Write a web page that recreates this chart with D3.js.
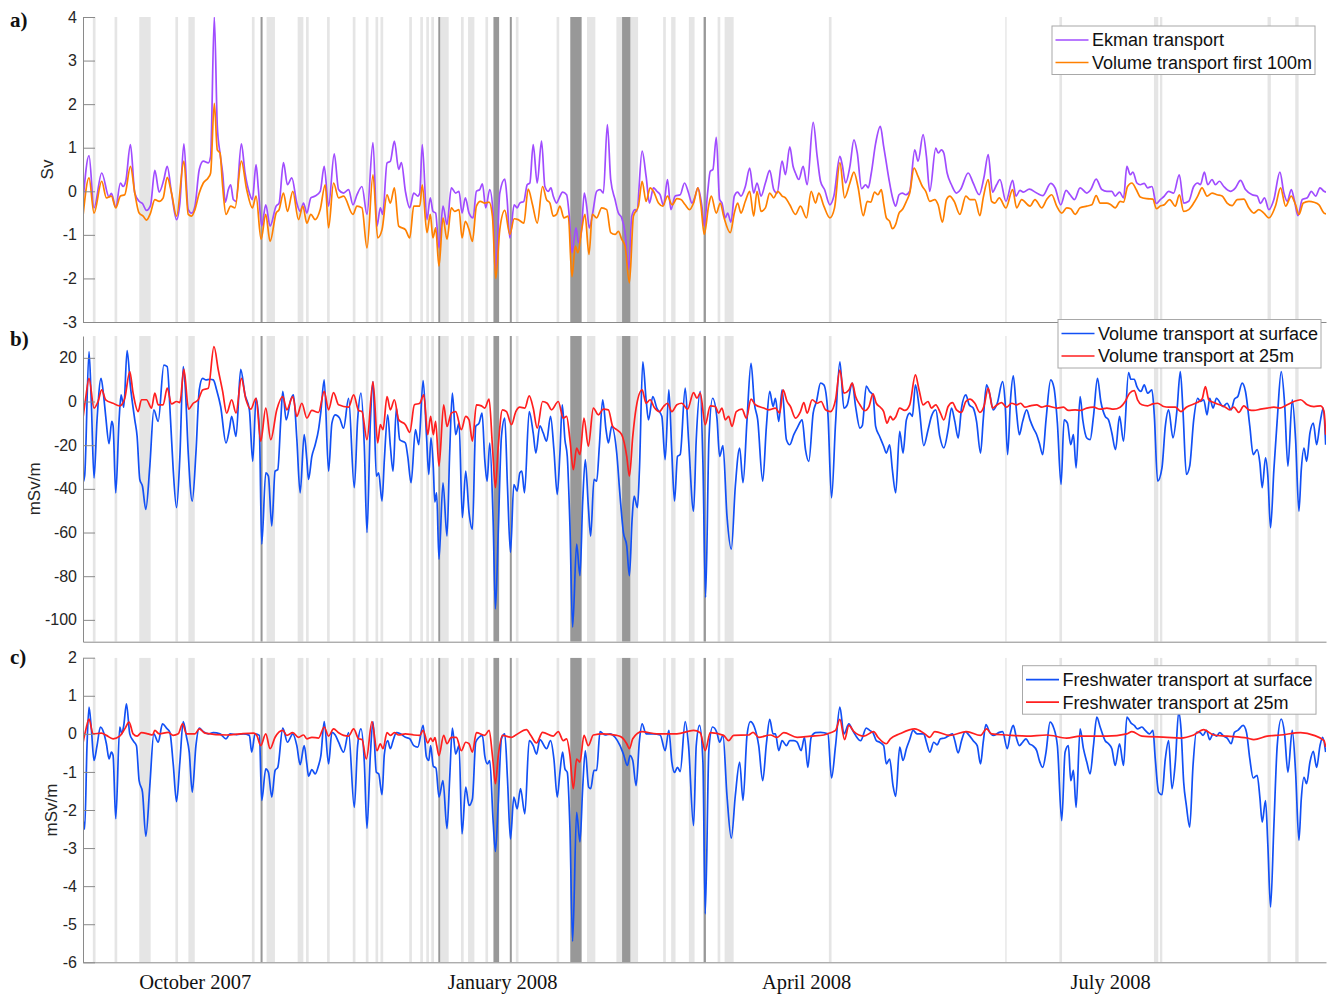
<!DOCTYPE html>
<html>
<head>
<meta charset="utf-8">
<script src="https://cdn.jsdelivr.net/npm/d3@7"></script>
<style>
  body { margin: 0; background: #fff; }
  svg { display: block; }
</style>
</head>
<body>
<svg id="fig" width="1330" height="997"></svg>
<script>
// ---------------------------------------------------------------------------
// Time base: series are given as [day, value], day counted from 28 Aug 2007.
// ---------------------------------------------------------------------------
const DAY0 = new Date(2007, 7, 28);
const dayRange = [0.55, 372.6];
const monthTicks = [new Date(2007, 9, 1), new Date(2008, 0, 1), new Date(2008, 3, 1), new Date(2008, 6, 1)];

// Event periods [startDay, endDay]
const lightEvents = [[3.5,4.3],[10.0,10.8],[17.4,20.8],[28.2,29.0],[32.1,34.0],[51.1,51.9],[55.5,58.0],
  [64.8,66.5],[67.3,68.1],[73.6,74.4],[81.3,82.1],[85.2,86.0],[88.1,88.9],[89.6,90.4],[98.2,99.0],
  [101.5,102.3],[103.3,104.1],[104.8,105.6],[107.6,110.0],[113.7,114.5],[115.8,117.7],[121.0,121.8],
  [130.1,130.9],[142.3,143.1],[151.4,153.9],[160.2,161.9],[164.4,166.7],[174.2,175.0],[176.6,177.9],
  [181.9,183.6],[190.5,191.3],[192.6,195.3],[223.8,224.6],[276.6,277.0],[292.8,293.6],[321.1,322.4],
  [322.9,323.6],[355.1,356.1],[363.4,364.4]];
const darkEvents = [[53.7,54.3],[106.9,107.5],[123.4,125.1],[128.3,128.9],[146.4,149.8],[161.9,164.4],[186.3,187.0]];

// a) Ekman transport (Sv)
const ekman = [[0.55,-0.23],[2.35,0.82],[3.85,-0.38],[6.15,0.42],[8.35,-0.13],[9.05,-0.05],[10.35,-0.36],[11.75,0.19],
  [12.55,0.11],[13.35,0.23],[14.75,1.07],[16.05,-0.04],[17.35,-0.23],[18.35,-0.28],[19.55,-0.44],[20.75,-0.33],
  [22.05,0.48],[23.35,-0.02],[24.75,0.27],[25.75,0.57],[27.05,-0.04],[28.55,-0.65],[29.55,-0.27],[30.75,1.09],
  [32.05,-0.42],[33.05,-0.5],[34.05,-0.34],[35.35,0.5],[36.55,0.69],[38.05,0.65],[38.75,0.8],[39.85,4.0],
  [40.75,1.49],[41.55,0.88],[42.35,0.42],[43.15,-0.25],[44.05,0.04],[44.75,0.15],[45.55,-0.19],[46.35,-0.23],
  [47.95,1.09],[49.05,0.42],[50.35,-0.04],[51.25,-0.19],[52.35,0.61],[53.05,0.04],[54.05,-0.8],[55.25,-0.31],
  [56.55,-0.8],[58.35,-0.34],[59.25,-0.27],[60.55,0.66],[61.75,0.15],[63.05,0.31],[64.55,-0.27],[65.55,-0.46],
  [66.55,-0.27],[67.55,-0.5],[68.75,-0.15],[70.05,-0.11],[71.55,0],[72.75,0.57],[74.05,-0.34],[75.75,0.86],
  [77.05,0.04],[78.55,-0.04],[80.05,0.04],[81.35,-0.31],[82.55,-0.08],[84.05,0.11],[85.55,-0.53],[87.35,1.12],
  [88.55,-0.8],[89.55,-0.38],[90.25,-0.53],[91.55,0.65],[92.55,0.69],[93.75,1.15],[95.05,0.5],[95.85,0.66],
  [97.05,0],[98.35,-0.38],[99.55,-0.04],[100.75,-0.11],[101.35,-0.04],[102.1,1.07],[103.5,-0.65],[104.5,-0.15],
  [105.3,-0.46],[106.1,-0.5],[107.1,-1.3],[108.3,-0.34],[109.5,-0.76],[110.8,0.08],[112.1,-0.04],[113.1,0],
  [114.0,-0.5],[115.0,-0.15],[116.1,-0.5],[117.3,-0.61],[118.3,0],[119.3,0.04],[120.1,0.17],[121.1,-0.38],
  [122.3,0.04],[123.3,-0.5],[124.1,-1.85],[125.3,-0.04],[126.8,0.28],[127.5,-0.19],[128.3,-1.07],[129.6,-0.31],
  [130.5,-0.38],[131.3,-0.27],[132.5,-0.23],[133.5,0.15],[134.3,0.19],[135.3,1.07],[136.5,0.19],[137.8,1.15],
  [138.8,0.11],[139.8,0],[140.6,0.08],[141.3,-0.11],[142.3,-0.27],[143.1,-0.15],[144.1,-0.02],[145.3,-0.08],
  [146.1,-0.57],[146.9,-1.41],[148.1,-0.84],[148.9,-1.18],[149.7,-0.95],[150.6,-0.04],[151.3,-0.34],[152.1,-0.84],
  [153.1,-0.5],[154.3,0],[155.3,0.04],[156.3,-0.04],[157.5,1.53],[158.5,0.27],[159.8,-0.19],[160.8,-0.5],
  [161.8,-0.61],[162.8,-0.95],[163.9,-1.79],[164.8,-0.57],[165.8,-0.42],[166.3,-0.46],[167.9,0.92],[169.1,0.34],
  [170.1,-0.27],[171.3,0.08],[172.3,0],[173.3,-0.08],[174.3,-0.33],[175.5,0.27],[176.5,-0.42],[177.8,-0.11],
  [179.3,-0.08],[180.6,0.19],[181.8,-0.04],[182.8,-0.27],[183.8,-0.11],[184.6,0.08],[185.8,-0.34],[186.5,-0.8],
  [187.5,-0.04],[188.3,0.46],[189.1,0.5],[190.1,1.24],[191.1,-0.19],[191.8,-0.27],[192.8,-0.61],[193.5,-0.5],
  [194.5,-0.71],[195.5,-0.11],[196.5,-0.02],[197.5,-0.11],[198.8,0.11],[200.1,0.53],[201.3,-0.04],[202.3,0.19],
  [203.5,-0.11],[204.8,0.19],[206.1,0.48],[207.3,0.04],[208.3,-0.04],[209.8,0.69],[210.8,0.38],[212.1,1.02],
  [213.1,0.57],[213.8,0.42],[214.8,0.27],[216.1,0.57],[217.3,0.15],[219.1,1.58],[220.3,0.8],[221.3,0.23],
  [222.5,0.04],[224.1,-0.31],[225.3,-0.11],[227.1,0.8],[227.8,0.61],[228.8,0.19],[230.1,0.57],[231.3,1.18],
  [232.3,0.88],[233.6,0.06],[234.8,0.15],[235.6,0.08],[236.5,0.42],[237.8,1.1],[239.2,1.49],[240.2,1.03],
  [241.0,0.65],[241.8,0.27],[243.0,-0.19],[243.8,-0.34],[244.8,-0.08],[245.8,-0.04],[246.8,-0.08],[248.0,0],
  [249.5,0.95],[250.5,0.69],[252.0,1.3],[253.0,0.8],[254.0,0],[255.8,0.99],[256.5,0.88],[257.5,0.95],
  [258.2,0.88],[259.2,0.42],[260.5,0.15],[262.0,-0.04],[263.2,0.04],[265.5,0.42],[267.0,0.19],[268.8,-0.08],
  [270.2,0.31],[271.5,0.84],[272.8,-0.02],[274.0,0.15],[275.0,0.27],[276.8,-0.23],[278.8,0.25],[279.8,-0.11],
  [281.0,0.02],[282.0,-0.02],[283.8,0.05],[286.0,-0.04],[287.8,-0.1],[290.2,0.18],[291.5,0.08],[293.2,-0.31],
  [294.8,0.02],[296.0,-0.08],[297.3,-0.19],[299.0,0.08],[301.0,-0.04],[302.2,0.04],[303.8,0.28],[305.5,0.04],
  [307.0,0],[308.5,0],[309.5,-0.11],[310.8,-0.02],[312.0,-0.15],[313.0,0.57],[314.0,0.38],[314.8,0.44],
  [316.0,0.19],[317.0,0.15],[318.2,0.18],[319.2,0.08],[320.5,0.11],[321.8,-0.28],[323.0,-0.19],[324.2,-0.11],
  [325.5,0],[327.0,-0.04],[328.7,0.38],[330.0,-0.27],[331.5,-0.23],[333.0,0.11],[334.2,0.19],[335.0,0.15],
  [336.2,0.44],[337.2,0.15],[338.5,0.27],[339.5,0.15],[340.7,0.23],[342.0,0.11],[344.0,0],[345.5,0.08],
  [347.0,0.25],[348.5,0.04],[350.5,-0.08],[352.0,-0.11],[353.0,-0.28],[354.2,-0.15],[355.5,-0.42],[357.0,-0.19],
  [358.8,0.44],[360.0,-0.04],[361.0,-0.23],[362.2,0.04],[363.2,-0.23],[364.2,-0.56],[365.5,-0.19],[367.0,-0.15],
  [368.2,0],[369.5,-0.11],[370.8,0.08],[372.0,0],[372.6,-0.02]];

// a) Volume transport in the first 100 m (Sv)
const vol100 = [[0.55,-0.57],[2.35,0.31],[3.85,-0.5],[6.15,0.23],[7.55,-0.15],[9.05,-0.11],[10.35,-0.38],[11.75,-0.11],
  [13.05,-0.08],[14.75,0.57],[16.05,-0.04],[17.35,-0.5],[18.55,-0.57],[19.55,-0.66],[20.75,-0.5],[22.05,-0.19],
  [23.35,-0.23],[24.55,-0.15],[25.75,0.32],[27.05,-0.04],[28.55,-0.57],[30.75,0.69],[32.05,-0.53],[33.05,-0.57],
  [34.05,-0.42],[35.35,-0.04],[36.55,0.19],[38.05,0.31],[38.75,0.42],[39.85,2.02],[40.75,0.95],[41.55,0.88],
  [42.35,0.11],[43.35,-0.53],[44.75,-0.34],[46.05,-0.38],[47.95,0.69],[49.55,0.04],[51.25,-0.38],[52.35,-0.11],
  [53.85,-1.1],[55.25,-0.53],[56.55,-1.15],[58.35,-0.5],[59.25,-0.42],[60.55,-0.04],[61.75,-0.46],[63.35,0],
  [65.05,-0.65],[66.35,-0.34],[67.55,-0.73],[68.75,-0.53],[70.05,-0.65],[71.55,-0.42],[73.05,0.15],[74.05,-0.84],
  [75.55,0.19],[77.05,-0.15],[78.55,-0.11],[81.35,-0.53],[82.55,-0.34],[84.05,-0.38],[85.55,-1.3],[87.35,0.38],
  [88.75,-1.07],[90.05,-0.88],[91.55,-0.08],[92.55,-0.27],[93.75,0.08],[95.05,-0.8],[97.05,-0.88],[98.35,-1.07],
  [99.55,-0.34],[101.35,-0.34],[102.1,0.15],[103.5,-0.95],[104.5,-0.53],[105.3,-1.07],[106.1,-0.84],[107.1,-1.72],
  [108.3,-0.61],[109.5,-1.1],[110.8,-0.38],[111.8,-0.46],[113.1,-0.42],[114.0,-1.07],[115.0,-0.69],[116.1,-0.88],
  [117.1,-1.15],[118.3,-0.34],[119.5,-0.23],[120.8,-0.27],[122.1,-0.25],[123.1,-0.57],[124.1,-2.0],[125.3,-0.88],
  [126.8,-0.44],[128.3,-0.99],[129.6,-0.63],[130.8,-0.65],[132.5,-0.73],[133.8,0.05],[135.1,-0.31],[136.5,-0.73],
  [138.1,0.11],[139.3,-0.19],[140.3,-0.27],[141.3,-0.57],[142.3,-0.53],[143.3,-0.34],[144.5,-0.61],[145.8,-0.57],
  [146.9,-1.96],[147.9,-1.26],[148.7,-1.41],[149.8,-0.88],[150.8,-0.53],[152.0,-1.45],[153.0,-0.53],[154.3,-0.61],
  [155.8,-0.38],[157.3,-0.42],[158.5,-0.95],[159.8,-0.99],[160.8,-0.92],[161.8,-1.1],[162.8,-1.26],[164.1,-2.1],
  [165.3,-0.57],[166.8,-0.34],[167.9,0.23],[169.1,-0.23],[170.3,0.08],[171.3,0],[172.8,-0.27],[174.1,-0.34],
  [175.5,-0.11],[176.9,-0.31],[178.3,-0.17],[179.5,-0.19],[180.8,-0.31],[182.1,-0.42],[183.3,-0.27],[184.6,0.08],
  [185.5,-0.31],[186.5,-0.99],[187.8,-0.34],[188.6,-0.11],[190.1,-0.5],[191.3,-0.27],[192.3,-0.57],[194.3,-0.95],
  [195.5,-0.5],[196.5,-0.27],[197.5,-0.5],[198.8,-0.23],[200.1,0],[201.3,-0.57],[202.3,0],[203.5,-0.46],
  [204.8,-0.38],[206.1,-0.04],[207.3,-0.15],[208.5,0],[209.8,-0.11],[210.8,-0.15],[212.1,-0.31],[213.8,-0.53],
  [215.3,-0.34],[217.1,-0.61],[218.5,0],[219.8,-0.27],[220.8,-0.04],[222.3,-0.34],[224.1,-0.61],[225.5,-0.38],
  [227.1,0.66],[228.5,-0.15],[230.1,0.19],[231.3,0.44],[232.5,0.11],[234.1,-0.56],[235.3,-0.23],[236.3,-0.25],
  [237.5,-0.02],[238.5,-0.08],[239.5,0.04],[240.2,-0.27],[241.0,-0.61],[242.0,-0.69],[242.8,-0.86],[243.8,-0.76],
  [244.8,-0.5],[245.8,-0.42],[247.0,-0.23],[248.0,-0.04],[249.3,0.53],[250.5,0.34],[251.8,0.11],[252.8,0],
  [254.0,-0.23],[255.5,-0.19],[256.5,-0.31],[257.8,-0.71],[259.0,-0.19],[260.0,-0.11],[261.3,-0.23],[263.0,-0.53],
  [264.8,-0.11],[266.0,-0.19],[267.5,-0.19],[269.0,-0.56],[270.0,-0.15],[271.5,0.27],[272.5,-0.23],[273.5,-0.27],
  [274.8,-0.15],[276.8,-0.38],[278.8,0.04],[280.0,-0.38],[281.5,-0.19],[284.0,-0.34],[285.5,-0.19],[287.5,-0.38],
  [289.0,-0.19],[290.5,-0.08],[292.0,-0.34],[293.5,-0.5],[295.0,-0.38],[296.2,-0.4],[297.5,-0.53],[299.0,-0.38],
  [301.0,-0.34],[302.5,-0.31],[303.8,-0.1],[305.0,-0.27],[307.0,-0.27],[308.2,-0.31],[309.5,-0.38],[311.0,-0.23],
  [312.0,-0.25],[313.2,0.11],[314.5,0.19],[315.8,0.04],[317.0,-0.13],[319.0,-0.17],[320.8,-0.18],[321.8,-0.4],
  [323.0,-0.34],[324.2,-0.31],[325.8,-0.19],[327.5,-0.34],[328.7,-0.08],[330.0,-0.46],[331.5,-0.42],[333.0,-0.27],
  [334.2,-0.11],[335.5,0.08],[337.0,-0.11],[338.5,-0.04],[340.0,-0.08],[341.5,-0.11],[343.0,-0.27],[344.5,-0.33],
  [346.0,-0.19],[348.0,-0.18],[349.5,-0.38],[351.0,-0.5],[352.5,-0.42],[354.0,-0.5],[355.5,-0.61],[357.5,-0.33],
  [359.0,0.08],[360.5,-0.34],[362.2,-0.11],[363.5,-0.31],[364.5,-0.53],[365.8,-0.27],[367.5,-0.23],[369.0,-0.25],
  [370.5,-0.31],[372.0,-0.5],[372.6,-0.52]];

// b) Volume transport at the surface (mSv/m)
const volSurf = [[0.55,-37.2],[1.05,-34],[2.35,22.8],[3.05,-0.8],[3.85,-35],[4.75,-8.4],[5.95,10.6],[6.75,2.3],
  [7.35,-6.8],[8.35,-19.3],[9.15,-9.1],[9.55,-11],[10.35,-41.8],[11.35,-8.4],[11.95,3],[12.75,-2.6],[13.75,23.3],
  [14.75,6.8],[16.05,-8.4],[16.75,-16],[17.55,-35.7],[18.35,-38.8],[19.35,-49.4],[20.55,-29.6],[21.75,-3.8],
  [23.05,-9.1],[24.75,16.7],[25.75,16],[26.75,-8.4],[27.55,-31.2],[28.55,-48.6],[29.55,-25.1],[30.55,16],
  [31.15,6.8],[32.05,-23.6],[33.25,-45.6],[34.35,-23.6],[35.35,5.3],[36.35,10.6],[37.35,9.9],[38.55,10.2],
  [39.55,9.9],[40.55,5.3],[41.75,-2.3],[43.35,-19],[44.35,-12.9],[45.05,-6.8],[46.35,-16],[47.75,14.7],[49.05,3],
  [50.35,-3.8],[51.35,-27.4],[52.35,1.5],[53.35,-12.9],[54.05,-65.3],[55.25,-32.7],[56.05,-34.2],[57.05,-57],
  [58.05,-31.9],[58.85,-31.2],[59.75,-8.4],[60.35,4.6],[61.35,-8.4],[62.75,0.8],[63.55,3],[64.55,-17.2],
  [65.55,-41.8],[66.75,-15.2],[67.55,-26.6],[68.05,-35.7],[69.05,-25.1],[70.05,-19.8],[71.05,-12.9],[71.75,-4.6],
  [72.75,9.9],[74.05,-31.9],[75.05,-9.9],[76.05,-6.1],[77.35,-7.6],[78.55,-12.2],[80.05,1.5],[81.75,-39.5],
  [82.75,-8.4],[83.75,3.8],[84.75,-20.5],[85.55,-60],[86.55,-9.9],[87.35,9.1],[88.35,-34.2],[89.05,-32.7],
  [90.05,-45.6],[90.75,-26.6],[91.75,-6.1],[92.55,-20.5],[93.35,-31.9],[94.35,-3],[95.35,-17.5],[97.05,-19],
  [97.75,-25.1],[98.75,-37.2],[100.05,-12.9],[101.05,-19.8],[102.35,9.6],[103.35,-15.2],[104.05,-33.4],
  [104.7,-16.7],[105.4,-30],[105.85,-46],[106.4,-41.8],[107.1,-72.2],[108.3,-37.2],[109.5,-61.6],[110.3,-23.6],
  [111.1,3.8],[112.1,-15.2],[113.1,-9.9],[114.1,-53.2],[115.1,-31.9],[116.1,-50.9],[117.1,-58.5],[118.1,-11.4],
  [119.1,-9.9],[120.0,-5.3],[120.8,-26.6],[121.5,-36.5],[122.3,-19],[123.3,-54],[124.0,-95],[124.8,-61.6],
  [125.8,-16],[126.8,-7.6],[127.6,-38.8],[128.5,-69.1],[129.5,-38],[130.5,-41],[131.3,-32.7],[131.9,-31.9],
  [132.7,-41.8],[134.1,-4.6],[135.3,-14.4],[136.1,-23.6],[137.3,-11.1],[138.3,-14.4],[139.3,-18.2],[140.5,-6.8],
  [141.5,-22],[142.5,-42.6],[143.3,-23.6],[144.0,-1.5],[144.8,-17.5],[145.5,-25.1],[146.3,-57],[147.1,-103.3],
  [148.3,-65.3],[149.3,-79.8],[150.1,-46.4],[150.9,-26.6],[151.8,-47.9],[152.5,-61.6],[153.5,-35.7],[154.3,-36.5],
  [155.1,-20.5],[156.1,0.8],[157.1,-12.9],[157.8,-19],[158.8,-11.4],[160.3,-23.6],[161.3,-43.3],[162.3,-60],
  [163.3,-66.1],[164.1,-79.8],[164.9,-54],[165.5,-43.3],[166.5,-48.6],[167.1,-31.2],[168.1,18.2],[169.1,0.8],
  [169.8,-8.4],[171.1,2.3],[172.3,-3],[173.8,-6.8],[174.8,-26.6],[175.9,5.3],[176.8,-23.6],[177.6,-45.6],
  [178.5,-25.1],[179.3,-24.3],[180.8,6.1],[181.8,-17.5],[183.3,-50.2],[184.1,-17.5],[185.3,4.6],[186.1,-28.1],
  [186.9,-89.7],[187.9,-17.5],[189.0,1.5],[190.3,-7.6],[191.1,-25.1],[192.1,-20.2],[193.3,-52.4],[194.6,-67.6],
  [195.8,-38.8],[197.1,-21.3],[198.1,-37.2],[199.3,-8.4],[200.5,17.5],[201.5,-0.8],[202.5,-8.4],[204.0,-36.5],
  [205.1,-11.4],[206.1,4.6],[207.1,-2.3],[207.8,1.5],[208.8,-9.1],[209.8,5.3],[211.1,-17.5],[212.1,-19.8],
  [213.3,-15.2],[214.3,-12.2],[215.8,-8.4],[216.8,-22],[217.8,-27.4],[219.1,-5.3],[220.1,0],[221.3,8.4],
  [222.3,7.6],[223.5,-5.3],[224.6,-44.1],[225.8,-9.9],[227.1,18.2],[228.3,-3],[229.3,-1.5],[230.8,8.4],
  [231.8,-2.3],[233.1,-12.2],[233.8,-11.1],[235.0,7.1],[236.0,4.6],[237.0,3],[237.8,-11.4],[239.0,-16],
  [240.2,-20.5],[241.0,-23.6],[242.0,-19.8],[242.8,-31.2],[243.8,-41.8],[245.0,-13.7],[246.0,-23.6],[247.0,-8.4],
  [248.0,-5.3],[248.8,-6.8],[249.7,7.6],[250.8,-2.3],[252.2,-20.2],[253.5,-12.9],[254.5,-6.8],[255.8,-3.8],
  [257.0,-16],[258.2,-21.3],[259.5,-12.9],[260.5,-3],[261.5,-9.1],[262.5,-16.7],[263.5,-3],[264.8,3],
  [265.8,-1.5],[267.0,-3],[268.0,-9.1],[269.2,-23.6],[270.0,-8.4],[271.0,7.6],[272.0,3],[273.0,-3.8],
  [274.2,-0.8],[275.8,9.1],[276.5,0.8],[277.3,-24.3],[278.2,1.5],[279.0,11.7],[280.0,-5.3],[280.8,-15.2],
  [281.8,-9.1],[283.0,-3.8],[284.0,-8.4],[285.0,-12.2],[286.0,-15.2],[286.8,-19],[287.8,-24.3],[288.8,-8.4],
  [290.2,9.9],[291.2,6.1],[292.2,-9.9],[293.3,-38],[294.2,-8.4],[295.2,-9.9],[296.2,-19.8],[297.0,-15.2],
  [297.8,-30.4],[299.0,2.3],[299.8,-8.4],[301.0,-16.7],[302.0,-17.5],[303.0,-6.8],[304.2,10.6],[305.2,0],
  [306.5,-6.8],[307.5,-8.4],[308.5,-14.4],[309.6,-22],[310.8,-6.8],[312.0,-18.2],[313.5,13.2],[314.2,10.2],
  [315.2,10.2],[316.0,6.8],[317.2,4.6],[318.2,7.6],[319.2,3.8],[320.5,5.3],[321.2,-6.1],[322.2,-36.5],
  [323.5,-30.4],[324.5,-11.4],[325.5,-3.8],[326.8,-16.7],[328.0,-3.8],[329.0,13.7],[329.8,-4.6],[330.8,-33.4],
  [331.8,-29.6],[333.0,-8.4],[334.2,1.5],[335.0,0],[336.0,0.8],[337.0,-6.1],[337.8,1.5],[338.8,-3],[339.8,1.5],
  [341.8,-2.3],[343.0,-0.8],[344.2,-3.8],[345.2,1.1],[346.2,2.3],[347.5,8.4],[348.5,4.6],[349.8,-11.4],
  [350.8,-24.3],[352.0,-22],[352.8,-28.1],[353.5,-39.5],[354.5,-25.8],[355.2,-34.2],[356.0,-57.8],[357.0,-31.2],
  [358.0,-8.4],[359.2,13.7],[360.2,-0.8],[361.2,-29.6],[362.5,0.8],[363.5,-17.5],[364.5,-50.2],[365.2,-31.2],
  [366.0,-21.3],[366.8,-27.4],[367.8,-14.4],[368.8,-9.9],[369.8,-19.8],[370.8,-9.9],[371.8,-3],[372.5,-19.8]];

// b) Volume transport at 25 m (mSv/m)
const vol25 = [[0.55,-7.6],[1.35,1.5],[2.35,10.6],[3.85,-3],[5.05,0],[6.15,5.3],[7.35,0.8],[9.55,-0.8],[11.55,-2],
  [13.05,1.5],[14.55,13.7],[15.55,3.8],[17.05,-4.6],[18.05,0.8],[19.55,0.8],[21.05,-3],[22.05,3.8],[23.05,-1.5],
  [24.55,-1.5],[25.75,6.1],[27.05,-1.1],[28.55,0],[29.55,-0.5],[30.75,14.7],[32.15,-3.5],[33.55,-0.8],[35.05,0.8],
  [36.35,5.3],[38.05,6.1],[39.75,25.1],[41.05,14.4],[42.35,4.6],[43.55,-5.3],[45.05,0.8],[46.35,-5.3],[47.95,10.6],
  [49.35,0.8],[50.75,-3.5],[52.35,1.5],[53.75,-18.2],[55.25,-3],[56.75,-17.5],[58.55,-3.8],[60.35,2.3],
  [61.55,-3.8],[63.35,2.3],[64.55,-6.8],[66.05,-0.8],[67.55,-7.6],[69.05,-4.1],[71.05,-5],[72.75,4.6],
  [74.05,-3.8],[75.55,4.1],[77.05,-1.5],[80.05,-2.6],[81.55,3],[83.05,-4.1],[84.05,-4.6],[85.55,-17.5],
  [87.35,9.1],[88.75,-19],[89.55,-10.6],[90.35,-12.9],[91.55,2.3],[92.55,-3.8],[93.75,0.8],[95.05,-8.4],
  [97.05,-10.6],[98.35,-14.1],[99.75,-1.5],[101.35,-0.8],[102.55,3],[103.75,-15.2],[104.6,-6.8],[105.4,-15.2],
  [106.1,-9.1],[107.1,-29.6],[108.5,-1.5],[109.5,-11.4],[110.8,-5.3],[112.1,-4.6],[113.8,-12.9],[115.1,-6.8],
  [116.1,-8.4],[117.1,-18.2],[118.3,-1.5],[119.8,-2],[120.8,-3],[122.1,1.1],[123.1,-20.5],[124.0,-39.5],
  [124.8,-21.3],[126.1,-3.8],[127.3,-4.6],[128.8,-10.6],[130.1,-4.6],[131.3,-2.6],[132.8,-3],[134.1,2.6],
  [135.3,-3],[136.5,-12.2],[138.1,0],[139.5,-0.8],[140.8,-3.8],[142.8,0],[144.3,-7.6],[145.3,-6.8],[146.3,-17.5],
  [147.3,-31.2],[148.3,-21.3],[149.3,-24.3],[150.5,-7.6],[151.8,-20.5],[153.3,-3],[154.8,-6.1],[156.3,-3.5],
  [157.8,-3.8],[159.1,-11.4],[160.3,-12.9],[161.8,-15.2],[163.3,-25.1],[164.1,-34.2],[165.1,-16],[166.1,-3],
  [167.9,5.3],[169.1,-0.8],[170.3,0.8],[171.5,-2.6],[173.1,-4.6],[174.3,-2.3],[175.5,-0.8],[176.8,-4.6],
  [178.3,-1.5],[179.8,-0.8],[181.5,-3.5],[183.3,4.1],[184.3,1.5],[185.3,3.8],[186.8,-10.6],[188.3,-2],
  [189.8,-2.3],[190.8,-5.3],[191.8,-3],[192.8,-8.4],[193.8,-6.8],[194.8,-11.4],[196.1,-4.6],[197.8,-3.5],
  [199.1,-7.6],[200.5,1.1],[201.8,-1.5],[204.3,-3],[205.8,-3.8],[207.8,-3],[209.1,-5.3],[210.1,5.3],[211.3,0],
  [212.3,-2.3],[213.8,-7.6],[215.3,-4.6],[216.3,-0.5],[217.3,-5.3],[218.8,0.8],[220.3,-0.8],[221.5,0],
  [222.8,-3.8],[224.3,-4.6],[225.8,0.8],[227.1,14.4],[228.3,3.8],[229.8,5.3],[230.8,8.4],[231.8,2.3],
  [233.1,-1.5],[234.5,-4.2],[235.8,-2.3],[237.0,3.5],[238.0,-0.8],[239.2,-2.6],[240.2,-4.6],[241.2,-9.9],
  [242.2,-6.8],[243.0,-8.4],[243.8,-7.1],[245.0,-3],[246.5,-4.1],[248.0,-1.5],[249.7,12.2],[250.8,5.3],
  [252.0,-1.5],[253.5,0],[254.5,-3],[255.8,-1.5],[257.2,-5.3],[258.2,-8.4],[259.5,-2.3],[260.8,-0.5],[262.0,-3.8],
  [263.5,-5],[264.8,0],[266.0,1.1],[267.5,-0.8],[269.0,-5],[270.2,-2.3],[271.5,6.1],[272.8,-3],[274.2,-1.5],
  [275.5,-0.5],[277.0,-2.6],[278.5,-0.8],[280.0,-1.5],[281.2,-0.8],[282.5,-2.6],[284.0,-2],[286.0,-1.5],
  [287.5,-2.6],[289.0,-2],[292.2,-3],[294.0,-2.6],[295.5,-4.1],[297.5,-3.8],[299.0,-4.1],[301.0,-3],[303.0,-2.6],
  [305.0,-3.5],[307.0,-3],[309.0,-3.5],[311.0,-2.6],[312.5,0],[313.8,3.8],[315.2,5],[316.2,0.8],[317.5,-1.5],
  [319.2,-2],[320.8,-1.1],[322.2,-0.8],[324.0,-2.3],[325.5,-2.6],[327.5,-2.6],[329.2,-4.6],[330.8,-2.6],
  [334.0,-0.5],[335.5,1.1],[336.5,6.8],[337.5,0.8],[339.0,-0.5],[340.8,-1.5],[342.5,-2.6],[343.8,-3.8],
  [345.0,-2.6],[346.5,-5],[348.0,-2],[349.5,-3.8],[351.0,-4.1],[353.0,-3.5],[355.0,-3],[357.0,-2.6],[358.8,-3],
  [361.0,-1.5],[363.0,0],[365.0,0.8],[367.0,-1.5],[369.0,-2.3],[371.0,-2],[372.0,-4.6],[372.5,-15.2]];

// c) Freshwater transport at the surface (mSv/m)
const fwSurf = [[0.55,-2.23],[1.05,-2.5],[1.75,-0.31],[2.35,0.7],[3.05,0.13],[3.85,-0.7],[4.75,-0.31],[5.75,0.18],
  [6.75,0.03],[7.55,-0.26],[8.35,-0.66],[9.05,-0.48],[9.55,-0.57],[10.35,-2.23],[11.55,0.18],[12.15,0],
  [12.75,0.22],[13.55,0.79],[14.55,0],[15.55,-0.18],[16.55,-0.31],[17.35,-1.23],[18.35,-1.53],[19.35,-2.69],
  [20.55,-1.36],[21.75,0],[23.05,-0.22],[24.35,0.26],[25.55,0.15],[26.55,0.04],[27.55,-0.79],[28.55,-1.78],
  [29.55,-0.74],[30.55,0.32],[31.55,-0.09],[32.35,-0.48],[33.25,-1.53],[34.35,-0.31],[35.35,0.15],[36.55,0.06],
  [38.05,0],[39.55,0.03],[41.55,0],[43.35,-0.13],[44.55,0],[46.55,-0.02],[48.55,0],[50.35,-0.04],[51.05,-0.48],
  [52.05,0],[53.35,-0.04],[54.05,-1.75],[55.25,-0.92],[56.05,-1.01],[57.05,-1.66],[58.05,-0.96],[58.85,-0.88],
  [60.35,0.15],[61.75,-0.22],[63.35,0],[64.55,-0.31],[65.55,-0.81],[66.75,-0.31],[67.55,-0.79],[68.05,-1.11],
  [69.05,-0.94],[70.05,-1.05],[71.05,-0.83],[71.75,-0.57],[72.75,0.32],[74.05,-0.79],[75.05,0.04],[76.05,-0.03],
  [77.05,-0.22],[78.55,-0.48],[80.05,0.03],[81.75,-1.93],[82.75,-0.31],[83.75,0.13],[84.75,-0.74],[85.55,-2.48],
  [86.55,-0.57],[87.35,0.32],[88.35,-1.01],[89.05,-1.05],[90.05,-1.6],[90.75,-0.53],[91.75,-0.18],[92.55,-0.39],
  [93.35,-0.18],[94.35,0.03],[95.55,0],[97.05,-0.09],[98.35,-0.13],[99.55,-0.31],[100.75,-0.35],[102.35,0.22],
  [103.35,-0.61],[104.05,-0.7],[104.6,-0.31],[105.4,-0.85],[106.2,-0.9],[107.1,-1.66],[108.3,-1.23],[109.5,-2.49],
  [110.3,-1.18],[111.1,0.15],[112.1,-0.53],[113.1,-0.31],[114.0,-2.63],[115.1,-1.4],[116.1,-1.88],[117.1,-1.71],
  [118.1,-0.22],[119.1,-0.09],[120.1,-0.04],[120.8,-0.57],[121.6,-0.79],[122.3,-0.7],[123.3,-2.28],[124.0,-3.09],
  [124.8,-1.88],[125.8,-0.13],[126.8,0],[127.6,-1.18],[128.5,-2.76],[129.5,-1.66],[130.5,-1.97],[131.5,-1.44],
  [132.8,-2.1],[134.1,-0.18],[135.3,-0.31],[136.3,-0.53],[137.3,-0.15],[139.3,-0.39],[140.5,-0.18],[141.5,-0.66],
  [142.5,-1.66],[143.3,-1.01],[144.1,-0.48],[144.8,-0.92],[145.5,-1.01],[146.3,-2.49],[147.1,-5.45],[148.3,-2.06],
  [149.3,-2.84],[150.1,-1.44],[150.9,-0.44],[151.9,-1.4],[152.5,-1.44],[153.5,-0.96],[154.3,-0.96],[155.3,0.06],
  [156.8,-0.03],[158.3,0],[159.8,-0.09],[161.3,-0.31],[162.3,-0.53],[163.5,-0.83],[164.3,-0.57],[165.1,-0.7],
  [166.1,-1.36],[167.1,-0.18],[167.9,0.26],[169.1,0],[171.3,0],[173.3,-0.03],[174.8,-0.44],[175.9,0.09],
  [176.8,-0.74],[177.6,-1.01],[178.5,-0.88],[179.3,-0.99],[180.8,0.32],[181.8,-0.31],[183.3,-2.41],[184.1,-0.31],
  [185.1,0.22],[186.1,-0.74],[186.8,-4.73],[187.9,-0.39],[189.0,0.18],[190.3,0.03],[191.1,-0.22],[192.1,-0.04],
  [193.3,-1.62],[194.6,-2.74],[195.8,-1.62],[197.1,-0.74],[198.1,-1.75],[199.3,-0.04],[200.3,0.32],[201.5,0.18],
  [202.8,-0.31],[204.0,-1.23],[205.1,-0.26],[206.1,0.38],[207.1,0],[207.8,0],[208.8,-0.44],[209.8,-0.18],
  [211.1,-0.31],[212.1,-0.18],[213.3,-0.18],[214.3,-0.22],[215.5,-0.44],[216.5,-0.09],[217.5,-0.88],[218.5,-0.09],
  [219.8,0.03],[221.3,0.04],[223.5,0],[224.6,-1.16],[225.8,-0.31],[227.1,0.7],[228.3,0],[229.8,0.26],[230.8,0.11],
  [231.8,-0.04],[233.3,-0.18],[235.0,0.15],[236.0,0.09],[237.0,0.03],[238.0,-0.18],[239.0,-0.22],[240.2,-0.31],
  [241.0,-0.79],[242.0,-0.66],[243.0,-1.36],[243.8,-1.64],[245.0,-0.35],[246.0,-0.7],[247.0,-0.39],[248.0,-0.15],
  [249.0,0.09],[250.2,0],[252.2,0],[253.0,-0.22],[254.0,-0.48],[255.2,-0.22],[256.2,-0.29],[257.2,-0.13],
  [258.5,-0.11],[259.8,-0.04],[260.8,0],[261.5,-0.18],[262.5,-0.5],[263.5,-0.18],[264.6,0.06],[265.8,-0.04],
  [267.0,-0.18],[268.2,-0.31],[269.2,-0.79],[270.0,-0.22],[270.8,0.24],[272.0,0.03],[273.2,-0.04],[274.8,0.04],
  [275.8,0.06],[277.2,-0.39],[278.2,0.04],[279.0,0.22],[280.0,-0.13],[280.8,-0.31],[281.8,-0.22],[282.8,-0.13],
  [283.8,-0.26],[284.8,-0.31],[286.0,-0.44],[286.8,-0.7],[287.8,-0.88],[288.8,-0.48],[290.0,0.31],[291.0,0.18],
  [292.2,-0.31],[293.5,-2.28],[294.5,-0.48],[295.5,-0.31],[296.2,-1.23],[297.0,-0.96],[297.8,-1.93],[299.0,0.13],
  [300.0,-0.39],[301.0,-0.74],[302.0,-1.05],[303.0,-0.31],[304.0,0.44],[305.0,0.18],[306.5,-0.18],[307.5,-0.26],
  [308.5,-0.39],[309.5,-0.83],[310.8,-0.26],[312.0,-0.83],[313.0,0.44],[314.2,0.29],[315.2,0.22],[316.2,0.13],
  [317.5,0.18],[318.5,0.09],[319.8,0],[320.8,0.09],[321.5,-0.66],[322.5,-1.53],[323.5,-1.6],[324.5,-0.66],
  [325.5,-0.18],[326.5,-1.44],[327.5,-0.74],[328.5,0.57],[329.2,0.13],[330.0,-1.27],[330.8,-1.88],[331.8,-2.45],
  [332.8,-0.83],[333.8,0.04],[334.8,0.04],[335.8,-0.04],[336.8,0.09],[337.8,-0.15],[338.8,0],[339.8,-0.06],
  [340.8,0.03],[342.0,-0.06],[343.0,-0.11],[344.2,-0.26],[345.2,0.04],[346.2,0.09],[347.8,0.22],[348.8,0.04],
  [349.8,-0.66],[350.8,-1.16],[352.0,-1.09],[352.8,-1.66],[353.5,-2.32],[354.5,-1.75],[355.2,-2.93],[356.0,-4.55],
  [357.0,-2.41],[358.0,-0.31],[359.2,0.39],[360.2,0],[361.2,-1.01],[362.5,0.09],[363.5,-1.01],[364.5,-2.8],
  [365.2,-1.71],[366.0,-1.14],[366.8,-1.31],[367.8,-0.74],[368.8,-0.46],[369.8,-0.88],[370.8,-0.31],[371.6,-0.09],
  [372.5,-0.48]];

// c) Freshwater transport at 25 m (mSv/m)
const fw25 = [[0.55,-0.24],[1.35,0.09],[2.35,0.39],[3.55,0],[6.05,0.02],[7.55,-0.04],[9.55,-0.13],[11.55,-0.06],
  [13.05,0.13],[14.35,0.31],[15.55,0],[16.75,-0.06],[18.05,0.03],[20.05,0],[21.35,-0.03],[22.05,0.09],[23.35,0],
  [26.05,0.04],[27.55,-0.04],[29.05,0],[30.35,0.26],[31.55,0],[34.05,0],[35.35,0.13],[37.05,0.02],[43.55,-0.03],
  [47.55,0],[51.55,0.02],[52.55,-0.04],[53.75,-0.31],[55.25,0],[56.55,-0.39],[58.05,-0.09],[60.35,0.09],
  [61.55,-0.04],[63.35,0.03],[65.05,-0.09],[66.55,-0.03],[67.55,-0.13],[69.05,-0.09],[71.05,-0.11],[72.75,0.18],
  [74.05,-0.06],[75.55,0.13],[77.05,0.03],[78.55,-0.04],[80.05,-0.06],[81.55,0.13],[83.05,-0.13],[84.05,-0.15],
  [85.35,-0.66],[87.05,0.32],[88.55,-0.44],[89.55,-0.26],[90.35,-0.39],[91.55,0.03],[92.55,-0.04],[93.75,0.03],
  [95.05,-0.03],[97.05,0],[99.55,-0.03],[101.35,-0.04],[102.35,0.09],[103.75,-0.24],[104.6,-0.11],[105.3,-0.2],
  [105.9,-0.1],[106.4,-0.3],[107.1,-0.57],[108.5,-0.04],[109.5,-0.26],[110.8,-0.09],[112.3,-0.09],[113.8,-0.44],
  [115.1,-0.22],[116.1,-0.26],[117.1,-0.48],[118.3,0.03],[120.8,-0.04],[122.1,0.09],[123.1,-0.57],[124.0,-1.31],
  [124.8,-0.61],[126.1,-0.04],[128.8,-0.09],[130.1,-0.03],[133.3,0.11],[134.5,-0.03],[136.3,-0.24],[138.1,0.04],
  [141.3,-0.06],[142.8,0.06],[144.3,-0.18],[145.3,-0.13],[146.3,-0.57],[147.3,-1.44],[148.3,-0.66],[149.3,-0.74],
  [150.5,-0.04],[151.8,-0.31],[153.3,-0.03],[156.3,0],[160.3,-0.04],[161.8,-0.09],[163.3,-0.26],[164.1,-0.39],
  [165.1,-0.13],[167.8,0.06],[172.3,0],[178.3,0],[183.3,0.09],[185.3,0.03],[186.8,-0.44],[188.3,0.03],
  [192.3,-0.04],[193.8,-0.18],[195.3,-0.04],[199.8,-0.03],[201.1,0.04],[202.8,-0.09],[206.3,-0.03],[208.3,-0.09],
  [210.3,0.03],[214.3,-0.09],[218.3,-0.06],[222.3,-0.03],[224.3,0.03],[225.8,0.09],[227.1,0.38],[228.5,-0.15],
  [229.8,0.22],[231.3,0.06],[234.3,-0.06],[237.2,0.06],[238.5,-0.09],[241.0,-0.26],[242.2,-0.13],[245.0,0],
  [249.5,0.13],[252.5,0],[254.0,-0.09],[255.5,0.06],[260.0,-0.04],[265.0,0.06],[269.2,-0.04],[271.0,0.13],
  [272.5,0],[277.0,-0.03],[283.0,-0.06],[289.0,-0.03],[295.0,-0.11],[299.0,-0.06],[307.0,-0.06],[313.0,0],
  [314.5,0.06],[317.5,-0.06],[325.0,-0.09],[329.0,-0.11],[333.0,-0.03],[336.0,0.11],[339.0,-0.03],[343.0,-0.06],
  [349.0,-0.11],[351.0,-0.15],[355.0,-0.06],[359.0,-0.03],[365.0,0.03],[369.0,-0.04],[372.0,-0.18],[372.5,-0.35]];

// Legend entries and axis texts
const legendA = ['Ekman transport', 'Volume transport first 100m'];
const legendB = ['Volume transport at surface', 'Volume transport at 25m'];
const legendC = ['Freshwater transport at surface', 'Freshwater transport at 25m'];
const ticksA = [-3, -2, -1, 0, 1, 2, 3, 4];
const ticksB = [-100, -80, -60, -40, -20, 0, 20];
const ticksC = [-6, -5, -4, -3, -2, -1, 0, 1, 2];

// ---------------------------------------------------------------------------
// Layout and styling
// ---------------------------------------------------------------------------
const X0 = 83, X1 = 1326;
const SANS = 'Liberation Sans, Arial, sans-serif';
const SERIF = 'Liberation Serif, Times New Roman, serif';
const AXIS_GREY = '#8a8a8a';
const LINE_W = 1.7;

const panels = [
  { id: 'a', tag: 'a)', top: 17, bottom: 322, domain: [-3, 4], ticks: ticksA, title: 'Sv', titleX: 53, tagY: 27,
    series: [{ data: ekman, color: '#a04cff' }, { data: vol100, color: '#ff8000' }],
    legend: { x: 1052, y: 26, w: 263, names: legendA } },
  { id: 'b', tag: 'b)', top: 336, bottom: 641.7, domain: [-110, 30], ticks: ticksB, title: 'mSv/m', titleX: 40, tagY: 346,
    series: [{ data: volSurf, color: '#1250f5' }, { data: vol25, color: '#ff1f1f' }],
    legend: { x: 1058, y: 319.5, w: 263, names: legendB } },
  { id: 'c', tag: 'c)', top: 657.7, bottom: 962.3, domain: [-6, 2], ticks: ticksC, title: 'mSv/m', titleX: 56.5, tagY: 664,
    series: [{ data: fwSurf, color: '#1250f5' }, { data: fw25, color: '#ff1f1f' }],
    legend: { x: 1022.5, y: 665.7, w: 293.5, names: legendC } }
];

const dateOf = d => new Date(DAY0.getTime() + d * 864e5);
const x = d3.scaleTime().domain(dayRange.map(dateOf)).range([X0, X1]);

const svg = d3.select('#fig');
const defs = svg.append('defs');

panels.forEach((p, pi) => {
  const y = d3.scaleLinear().domain(p.domain).range([p.bottom, p.top]);
  const g = svg.append('g').attr('class', 'panel-' + p.id);

  defs.append('clipPath').attr('id', 'clip-' + p.id)
    .append('rect').attr('x', X0).attr('y', p.top).attr('width', X1 - X0).attr('height', p.bottom - p.top);

  const body = g.append('g').attr('clip-path', `url(#clip-${p.id})`);

  // event shading
  const band = (sel, data, fill) => sel.selectAll(null).data(data).join('rect')
    .attr('x', d => x(dateOf(d[0])))
    .attr('width', d => Math.max(1, x(dateOf(d[1])) - x(dateOf(d[0]))))
    .attr('y', p.top).attr('height', p.bottom - p.top)
    .attr('fill', fill);
  band(body, lightEvents, '#e5e5e5');
  band(body, darkEvents, '#989898');

  // series
  const line = d3.line()
    .x(d => x(dateOf(d[0])))
    .y(d => y(d[1]))
    .curve(d3.curveMonotoneX);
  p.series.forEach(s => {
    body.append('path').datum(s.data)
      .attr('d', line).attr('fill', 'none')
      .attr('stroke', s.color).attr('stroke-width', LINE_W)
      .attr('stroke-linejoin', 'round');
  });

  // y axis
  const ya = g.append('g').attr('transform', `translate(${X0},0)`)
    .call(d3.axisLeft(y).tickValues(p.ticks).tickSizeInner(-12).tickSizeOuter(0).tickPadding(6)
      .tickFormat(d => String(d)));
  ya.select('.domain').attr('stroke', AXIS_GREY);
  ya.selectAll('.tick line').attr('stroke', AXIS_GREY);
  ya.selectAll('.tick text').attr('fill', '#262626').style('font-family', SANS).style('font-size', '16px');

  // x axis (month labels on the bottom panel only)
  const last = pi === panels.length - 1;
  const xa = g.append('g').attr('transform', `translate(0,${p.bottom})`)
    .call(d3.axisBottom(x).tickValues(last ? monthTicks : []).tickSize(0).tickPadding(12)
      .tickFormat(d3.timeFormat('%B %Y')));
  xa.select('.domain').attr('stroke', AXIS_GREY);
  xa.selectAll('.tick text').attr('fill', '#111').style('font-family', SERIF).style('font-size', '20.5px');

  // y-axis title
  g.append('text')
    .attr('transform', `translate(${p.titleX},${(p.top + p.bottom) / 2}) rotate(-90)`)
    .attr('text-anchor', 'middle')
    .style('font-family', SANS).style('font-size', '17px').attr('fill', '#262626')
    .text(p.title);

  // panel tag
  g.append('text').attr('x', 10).attr('y', p.tagY)
    .style('font-family', SERIF).style('font-size', '21px').style('font-weight', 'bold')
    .attr('fill', '#111').text(p.tag);

  // legend
  const L = p.legend;
  const lg = g.append('g');
  lg.append('rect').attr('x', L.x).attr('y', L.y).attr('width', L.w).attr('height', 48.5)
    .attr('fill', '#fff').attr('stroke', '#a8a8a8').attr('stroke-width', 1);
  L.names.forEach((name, i) => {
    const cy = L.y + 14 + i * 22.5;
    lg.append('line').attr('x1', L.x + 3.5).attr('x2', L.x + 36.5).attr('y1', cy).attr('y2', cy)
      .attr('stroke', p.series[i].color).attr('stroke-width', LINE_W);
    lg.append('text').attr('x', L.x + 40).attr('y', cy).attr('dy', '0.35em')
      .style('font-family', SANS).style('font-size', '18px').attr('fill', '#111')
      .text(name);
  });
});
</script>
